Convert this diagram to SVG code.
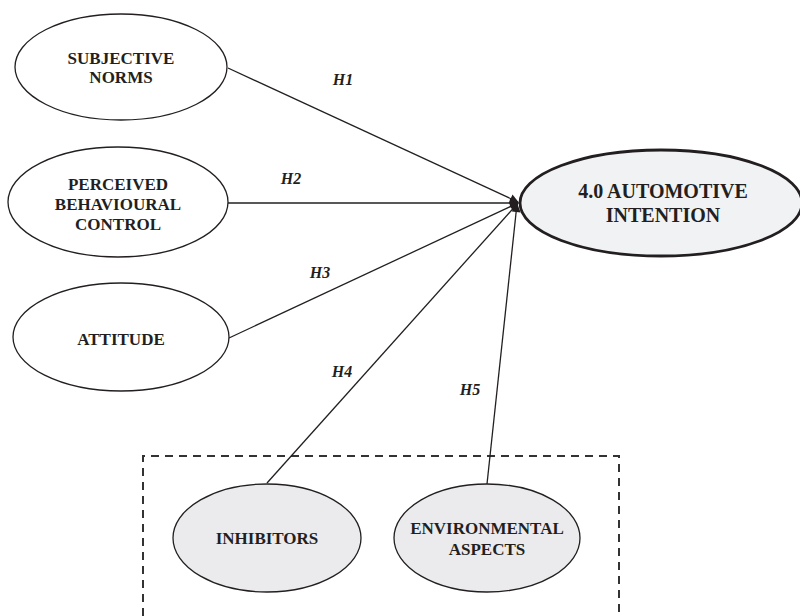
<svg xmlns="http://www.w3.org/2000/svg" width="800" height="616" viewBox="0 0 800 616">
<style>
.n{fill:#ffffff;stroke:#231f20;stroke-width:1.3}
.g{fill:#ebebed;stroke:#231f20;stroke-width:1.3}
.m{fill:#f1f2f4;stroke:#231f20;stroke-width:2.8}
.t{font-family:"Liberation Serif","Times New Roman",serif;font-weight:bold;font-size:17px;fill:#231f20;text-anchor:middle}
.tb{font-size:20px}
.h{font-family:"Liberation Serif","Times New Roman",serif;font-weight:bold;font-style:italic;font-size:16px;fill:#231f20;text-anchor:middle}
.c{stroke:#231f20;stroke-width:1.3;fill:none;marker-end:url(#ah)}
.box{fill:none;stroke:#333333;stroke-width:2;stroke-dasharray:8 6}
</style>
<defs>
<marker id="ah" viewBox="0 0 10 10" refX="9" refY="5" markerWidth="10" markerHeight="9" markerUnits="userSpaceOnUse" orient="auto">
<path d="M0,0 L10,5 L0,10 Z" fill="#231f20"/>
</marker>
</defs>
<rect width="800" height="616" fill="#ffffff"/>
<path class="box" d="M143,616 V456 H619 V616"/>
<g id="connectors">
<line class="c" x1="228" y1="68" x2="518" y2="202"/>
<line class="c" x1="228" y1="203" x2="518" y2="203"/>
<line class="c" x1="229" y1="338" x2="518" y2="203"/>
<line class="c" x1="267" y1="483" x2="518" y2="203"/>
<line class="c" x1="487" y1="484" x2="517" y2="204"/>
<text class="h" x="343" y="85">H1</text>
<text class="h" x="291" y="184">H2</text>
<text class="h" x="320" y="278">H3</text>
<text class="h" x="342" y="377">H4</text>
<text class="h" x="470" y="395">H5</text>
</g>
<g id="subjective-norms">
<ellipse class="n" cx="121" cy="67" rx="106" ry="53"/>
<text class="t" x="121" y="64">SUBJECTIVE</text>
<text class="t" x="121" y="83">NORMS</text>
</g>
<g id="perceived-behavioural-control">
<ellipse class="n" cx="118" cy="202" rx="110" ry="55"/>
<text class="t" x="118" y="190">PERCEIVED</text>
<text class="t" x="118" y="210">BEHAVIOURAL</text>
<text class="t" x="118" y="230">CONTROL</text>
</g>
<g id="attitude">
<ellipse class="n" cx="121" cy="337" rx="108" ry="54"/>
<text class="t" x="121" y="345">ATTITUDE</text>
</g>
<g id="automotive-intention">
<ellipse class="m" cx="661" cy="203" rx="141" ry="53"/>
<text class="t tb" x="663" y="198">4.0 AUTOMOTIVE</text>
<text class="t tb" x="663" y="222">INTENTION</text>
</g>
<g id="inhibitors">
<ellipse class="g" cx="267" cy="538" rx="94" ry="54"/>
<text class="t" x="267" y="544">INHIBITORS</text>
</g>
<g id="environmental-aspects">
<ellipse class="g" cx="487" cy="538" rx="93" ry="54"/>
<text class="t" x="487" y="534">ENVIRONMENTAL</text>
<text class="t" x="487" y="555">ASPECTS</text>
</g>
</svg>
